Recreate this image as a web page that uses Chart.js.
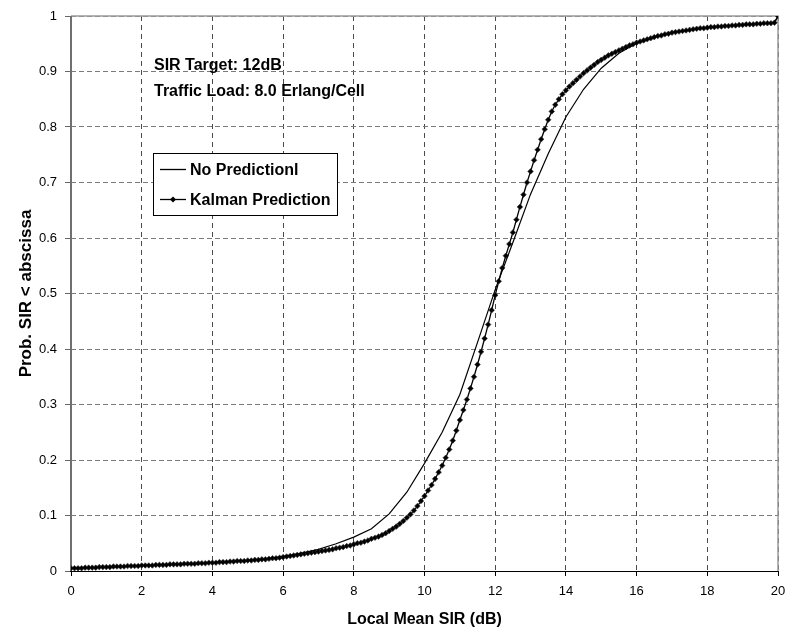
<!DOCTYPE html>
<html>
<head>
<meta charset="utf-8">
<script src="https://cdn.jsdelivr.net/npm/chart.js@4"></script>
<style>
  html, body { margin: 0; padding: 0; background: #fff; }
  #wrap { width: 789px; height: 635px; }
</style>
</head>
<body>
<div id="wrap"><canvas id="cdf" width="789" height="635"></canvas></div>
<script>
// Local mean SIR (dB) for the "No Prediction" curve
const noPredSir = [0, 0.5, 1, 1.5, 2, 2.5, 3, 3.5, 4, 4.5, 5, 5.5, 6, 6.5, 7, 7.5, 8, 8.5, 9, 9.5,
  10, 10.5, 11, 11.5, 12, 12.5, 13, 13.5, 14, 14.5, 15, 15.5, 16, 16.5, 17, 17.5, 18, 18.5, 19, 19.5, 19.9, 20];
const noPredProb = [0.005, 0.006, 0.007, 0.008, 0.010, 0.011, 0.012, 0.013, 0.015, 0.017, 0.019, 0.022, 0.026, 0.032, 0.039, 0.049, 0.061, 0.076, 0.103, 0.142,
  0.194, 0.250, 0.318, 0.412, 0.507, 0.592, 0.679, 0.752, 0.818, 0.868, 0.906, 0.933, 0.951, 0.962, 0.970, 0.975, 0.979, 0.982, 0.984, 0.986, 0.988, 1.0];

// Kalman prediction, one value per 0.1 dB from 0 to 20 dB
const kalmanStep = 0.1;
const kalmanProb = [
  0.005, 0.005, 0.005, 0.005, 0.006, 0.006, 0.006, 0.006, 0.007, 0.007,   // 0.0 - 0.9
  0.007, 0.007, 0.008, 0.008, 0.008, 0.008, 0.009, 0.009, 0.009, 0.009,   // 1.x
  0.010, 0.010, 0.010, 0.010, 0.011, 0.011, 0.011, 0.011, 0.012, 0.012,   // 2.x
  0.012, 0.012, 0.013, 0.013, 0.013, 0.013, 0.014, 0.014, 0.014, 0.015,   // 3.x
  0.015, 0.015, 0.016, 0.016, 0.016, 0.017, 0.017, 0.018, 0.018, 0.018,   // 4.x
  0.019, 0.019, 0.020, 0.020, 0.021, 0.021, 0.022, 0.023, 0.023, 0.024,   // 5.x
  0.025, 0.026, 0.027, 0.028, 0.029, 0.030, 0.031, 0.032, 0.033, 0.034,   // 6.x
  0.035, 0.036, 0.037, 0.038, 0.039, 0.041, 0.042, 0.043, 0.045, 0.046,   // 7.x
  0.048, 0.050, 0.051, 0.053, 0.055, 0.058, 0.060, 0.062, 0.065, 0.068,   // 8.x
  0.072, 0.076, 0.080, 0.085, 0.090, 0.096, 0.102, 0.109, 0.117, 0.126,   // 9.x
  0.135, 0.145, 0.155, 0.166, 0.178, 0.190, 0.204, 0.219, 0.235, 0.253,   // 10.x
  0.272, 0.290, 0.309, 0.329, 0.350, 0.372, 0.395, 0.419, 0.444, 0.470,   // 11.x
  0.497, 0.522, 0.546, 0.568, 0.589, 0.610, 0.633, 0.656, 0.678, 0.700,   // 12.x
  0.720, 0.740, 0.759, 0.778, 0.796, 0.813, 0.828, 0.840, 0.850, 0.859,   // 13.x
  0.866, 0.873, 0.879, 0.885, 0.891, 0.897, 0.902, 0.907, 0.912, 0.917,   // 14.x
  0.921, 0.925, 0.929, 0.932, 0.935, 0.938, 0.941, 0.944, 0.947, 0.949,   // 15.x
  0.952, 0.954, 0.956, 0.958, 0.960, 0.962, 0.964, 0.965, 0.967, 0.968,   // 16.x
  0.970, 0.971, 0.972, 0.973, 0.974, 0.975, 0.976, 0.977, 0.978, 0.978,   // 17.x
  0.979, 0.980, 0.980, 0.981, 0.981, 0.982, 0.982, 0.983, 0.983, 0.984,   // 18.x
  0.984, 0.985, 0.985, 0.985, 0.986, 0.986, 0.987, 0.987, 0.987, 0.988,   // 19.x
  1.000                                                                   // 20.0
];

const seriesLabels = ['No Predictionl', 'Kalman Prediction'];
const noteLines = ['SIR Target: 12dB', 'Traffic Load: 8.0 Erlang/Cell'];
const xTitle = 'Local Mean SIR (dB)';
const yTitle = 'Prob. SIR < abscissa';

const FONT = '"Liberation Sans", Arial, "DejaVu Sans", sans-serif';

// frame round the plot area, drawn under the curves
const framePlugin = {
  id: 'frame',
  beforeDatasetsDraw(chart) {
    const { ctx, chartArea: a } = chart;
    ctx.save();
    ctx.strokeStyle = '#9a9a9a';
    ctx.lineWidth = 1.5;
    ctx.beginPath();
    ctx.moveTo(a.left, a.top);
    ctx.lineTo(a.right, a.top);
    ctx.lineTo(a.right, a.bottom);
    ctx.stroke();
    ctx.strokeStyle = '#707070';
    ctx.lineWidth = 2;
    ctx.beginPath();
    ctx.moveTo(a.left, a.top);
    ctx.lineTo(a.left, a.bottom);
    ctx.stroke();
    ctx.strokeStyle = '#000';
    ctx.lineWidth = 1;
    ctx.beginPath();
    ctx.moveTo(a.left - 1, a.bottom + 0.5);
    ctx.lineTo(a.right, a.bottom + 0.5);
    ctx.stroke();
    ctx.restore();
  }
};

// text notes and the boxed legend inside the plot
const notesPlugin = {
  id: 'notes',
  afterDraw(chart) {
    const ctx = chart.ctx;
    ctx.save();
    ctx.fillStyle = '#000';
    ctx.font = 'bold 16px ' + FONT;
    ctx.textAlign = 'left';
    ctx.textBaseline = 'alphabetic';
    ctx.fillText(noteLines[0], 154, 70);
    ctx.fillText(noteLines[1], 154, 96);

    // legend box
    ctx.fillStyle = '#fff';
    ctx.fillRect(153, 153, 184, 62);
    ctx.strokeStyle = '#000';
    ctx.lineWidth = 1;
    ctx.strokeRect(153.5, 153.5, 184, 62);

    const rows = [169.5, 199.5];
    chart.data.datasets.forEach((ds, i) => {
      const y = rows[i];
      ctx.strokeStyle = '#000';
      ctx.lineWidth = 1.3;
      ctx.beginPath();
      ctx.moveTo(160, y);
      ctx.lineTo(186, y);
      ctx.stroke();
      if (ds.pointRadius > 0) {
        ctx.fillStyle = '#000';
        ctx.beginPath();
        ctx.moveTo(173, y - 3);
        ctx.lineTo(176, y);
        ctx.lineTo(173, y + 3);
        ctx.lineTo(170, y);
        ctx.closePath();
        ctx.fill();
      }
      ctx.fillStyle = '#000';
      ctx.textBaseline = 'middle';
      ctx.fillText(ds.label, 190, y + 1);
    });
    ctx.restore();
  }
};

const ctx = document.getElementById('cdf').getContext('2d');
new Chart(ctx, {
  type: 'line',
  data: {
    datasets: [
      {
        label: seriesLabels[0],
        data: noPredSir.map((s, i) => ({ x: s, y: noPredProb[i] })),
        borderColor: '#000',
        borderWidth: 1.2,
        pointRadius: 0,
        tension: 0,
        fill: false
      },
      {
        label: seriesLabels[1],
        data: kalmanProb.map((p, i) => ({ x: i * kalmanStep, y: p })),
        borderColor: '#000',
        borderWidth: 1.3,
        pointStyle: 'rectRot',
        pointRadius: 2.8,
        pointBackgroundColor: '#000',
        pointBorderColor: '#333',
        pointBorderWidth: 0.6,
        tension: 0,
        fill: false
      }
    ]
  },
  options: {
    responsive: false,
    animation: false,
    events: [],
    layout: { padding: { top: 16, right: 11, left: 0, bottom: 0 } },
    plugins: {
      legend: { display: false },
      tooltip: { enabled: false }
    },
    scales: {
      x: {
        type: 'linear',
        min: 0,
        max: 20,
        // in v4 the dash of the grid lines lives under border
        border: { display: false, dash: [5, 4] },
        grid: {
          color: '#4a4a4a',
          lineWidth: 1,
          tickLength: 5,
          tickColor: '#000',
          tickBorderDash: []
        },
        ticks: {
          stepSize: 2,
          color: '#000',
          padding: 8,
          font: { family: FONT, size: 13 }
        },
        title: {
          display: true,
          text: xTitle,
          color: '#000',
          font: { family: FONT, size: 16, weight: 'bold' },
          padding: { top: 0, bottom: 6 }
        },
        afterFit(scale) {
          scale.height = 64;
          scale.paddingLeft = 0;
          scale.paddingRight = 0;
        }
      },
      y: {
        type: 'linear',
        min: 0,
        max: 1,
        border: { display: false, dash: [5, 3] },
        grid: {
          color: '#7a7a7a',
          lineWidth: 1,
          tickLength: 6,
          tickColor: '#666',
          tickBorderDash: []
        },
        ticks: {
          stepSize: 0.1,
          color: '#000',
          padding: 8,
          font: { family: FONT, size: 13 },
          callback: (v) => String(Number(v.toFixed(1)))
        },
        title: {
          display: true,
          text: yTitle,
          color: '#000',
          font: { family: FONT, size: 17, weight: 'bold' },
          padding: { top: 16, bottom: 0 }
        },
        afterFit(scale) {
          scale.width = 71;
          scale.paddingTop = 0;
          scale.paddingBottom = 0;
        }
      }
    }
  },
  plugins: [framePlugin, notesPlugin]
});
</script>
</body>
</html>
